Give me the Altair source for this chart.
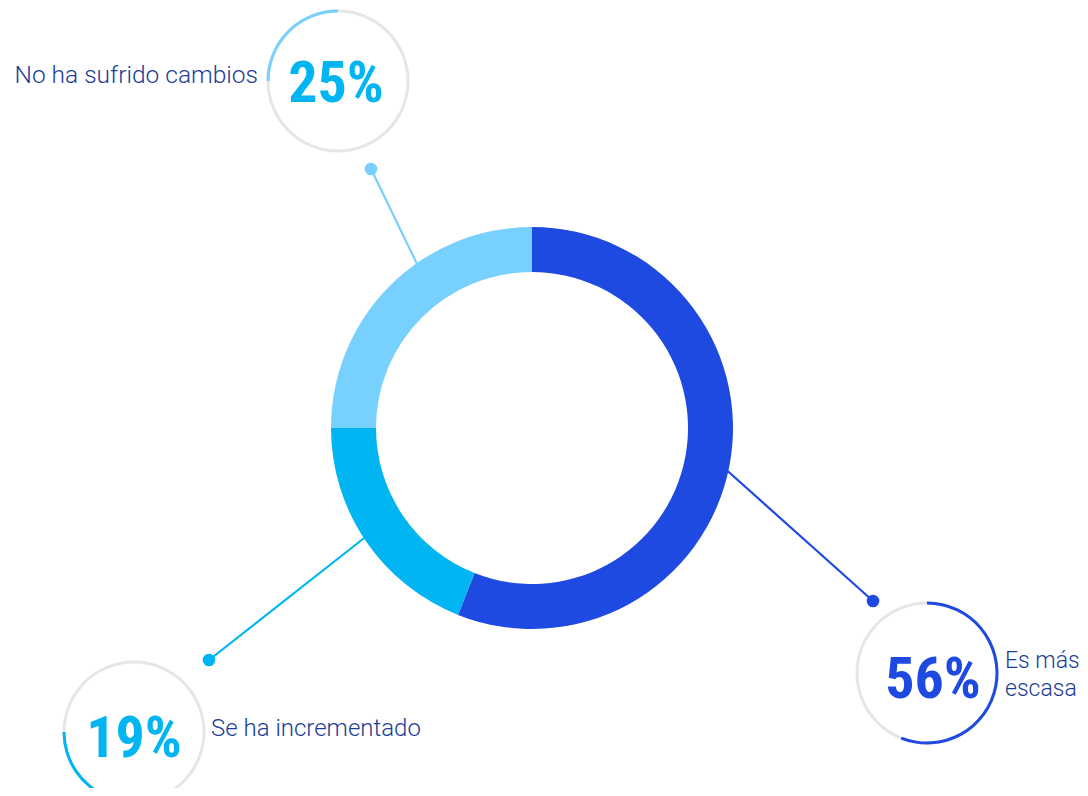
import math
import altair as alt
import pandas as pd

# ---- data ----
categories = ["Es más escasa", "Se ha incrementado", "No ha sufrido cambios"]
values = [56, 19, 25]
pct_labels = ["56%", "19%", "25%"]

# ---- styles ----
slice_colors = ["#1f4ae1", "#00b5f1", "#78d0ff"]
pct_colors = ["#1f4ae1", "#00b5f1", "#00b5f1"]
text_color = "#1c3d96"
ring_grey = "#e6e6e6"
PCT_FONT = "'Roboto Condensed', Roboto, sans-serif"

# ---- layout (image pixel coords; the page has an 8px margin) ----
M = 8
donut_c = (532, 428)
R_OUT, R_IN = 201, 156
callout_c = {"Es más escasa": (927, 673), "Se ha incrementado": (134, 732), "No ha sufrido cambios": (338, 81)}
CALL_R = 70
leader = {  # (donut end, dot)
    "Es más escasa": ((722, 466), (873, 601)),
    "Se ha incrementado": ((368, 535), (209, 660)),
    "No ha sufrido cambios": ((419, 268), (371, 169)),
}
pct_pos = {"Es más escasa": (933, 698), "Se ha incrementado": (134, 757), "No ha sufrido cambios": (336, 102)}
label_pos = {"Es más escasa": (1005, 668, "left"), "Se ha incrementado": (211, 736, "left"),
             "No ha sufrido cambios": (258, 83, "right")}
label_size = {"Es más escasa": 23, "Se ha incrementado": 24, "No ha sufrido cambios": 24.5}
label_wrap = {"Es más escasa": "Es más\nescasa"}

# ---- build tables ----
total = sum(values)
rows = []
acc = 0
for cat, v, pl, col, pc in zip(categories, values, pct_labels, slice_colors, pct_colors):
    t0 = acc / total * 2 * math.pi
    acc += v
    t1 = acc / total * 2 * math.pi
    (lx1, ly1), (lx2, ly2) = leader[cat]
    lbx, lby, lba = label_pos[cat]
    rows.append(dict(cat=cat, value=v, pct=pl, color=col, pcolor=pc, t0=t0, t1=t1,
                     cx=callout_c[cat][0] - M, cy=callout_c[cat][1] - M,
                     lx1=lx1 - M, ly1=ly1 - M, lx2=lx2 - M, ly2=ly2 - M,
                     px=pct_pos[cat][0] - M, py=pct_pos[cat][1] - M,
                     tx=lbx - M, ty=lby - M, align=lba, fsize=label_size[cat],
                     label=label_wrap.get(cat, cat), full=2 * math.pi, zero=0.0))
df = pd.DataFrame(rows)
base = alt.Chart(df)

color_scale = alt.Scale(domain=categories, range=slice_colors)


def X(f):
    return alt.X(f, scale=None, axis=None)


def Y(f):
    return alt.Y(f, scale=None, axis=None)


leaders = base.mark_rule(strokeWidth=2.2).encode(
    x=X("lx1:Q"), y=Y("ly1:Q"), x2="lx2:Q", y2="ly2:Q",
    color=alt.Color("cat:N", scale=color_scale, legend=None),
)
dots = base.mark_point(filled=True, opacity=1, size=160, shape="circle").encode(
    x=X("lx2:Q"), y=Y("ly2:Q"),
    color=alt.Color("cat:N", scale=color_scale, legend=None),
)
donut = base.mark_arc(innerRadius=R_IN, outerRadius=R_OUT).encode(
    theta=alt.Theta("t0:Q", scale=None), theta2="t1:Q",
    color=alt.Color("cat:N", scale=color_scale, legend=None),
    x=alt.value(donut_c[0] - M), y=alt.value(donut_c[1] - M),
)
rings = base.mark_arc(innerRadius=CALL_R - 1.5, outerRadius=CALL_R + 1.5, color=ring_grey).encode(
    theta=alt.Theta("zero:Q", scale=None), theta2="full:Q",
    x=X("cx:Q"), y=Y("cy:Q"),
)
ring_arcs = base.mark_arc(innerRadius=CALL_R - 1.5, outerRadius=CALL_R + 1.5).encode(
    theta=alt.Theta("t0:Q", scale=None), theta2="t1:Q",
    x=X("cx:Q"), y=Y("cy:Q"),
    color=alt.Color("cat:N", scale=color_scale, legend=None),
)
pcts = base.mark_text(font=PCT_FONT, fontWeight="bold", fontSize=58,
                      align="center", baseline="alphabetic").encode(
    x=X("px:Q"), y=Y("py:Q"),
    text="pct:N",
    color=alt.Color("pcolor:N", scale=None),
)
labels_l = base.transform_filter(alt.datum.align == "left").mark_text(
    font="Roboto", fontWeight=300, align="left", baseline="alphabetic",
    lineBreak="\n", lineHeight=28, color=text_color).encode(
    x=X("tx:Q"), y=Y("ty:Q"), text="label:N",
    size=alt.Size("fsize:Q", scale=None))
labels_r = base.transform_filter(alt.datum.align == "right").mark_text(
    font="Roboto", fontWeight=300, align="right", baseline="alphabetic",
    lineBreak="\n", lineHeight=28, color=text_color).encode(
    x=X("tx:Q"), y=Y("ty:Q"), text="label:N",
    size=alt.Size("fsize:Q", scale=None))

chart = alt.layer(leaders, dots, donut, rings, ring_arcs, pcts, labels_l, labels_r).properties(
    width=1072, height=780, padding=0, autosize=alt.AutoSizeParams(type="none"),
    background="white",
).configure_view(stroke=None)

chart.save("out.html", embed_options={"renderer": "svg", "actions": False})
